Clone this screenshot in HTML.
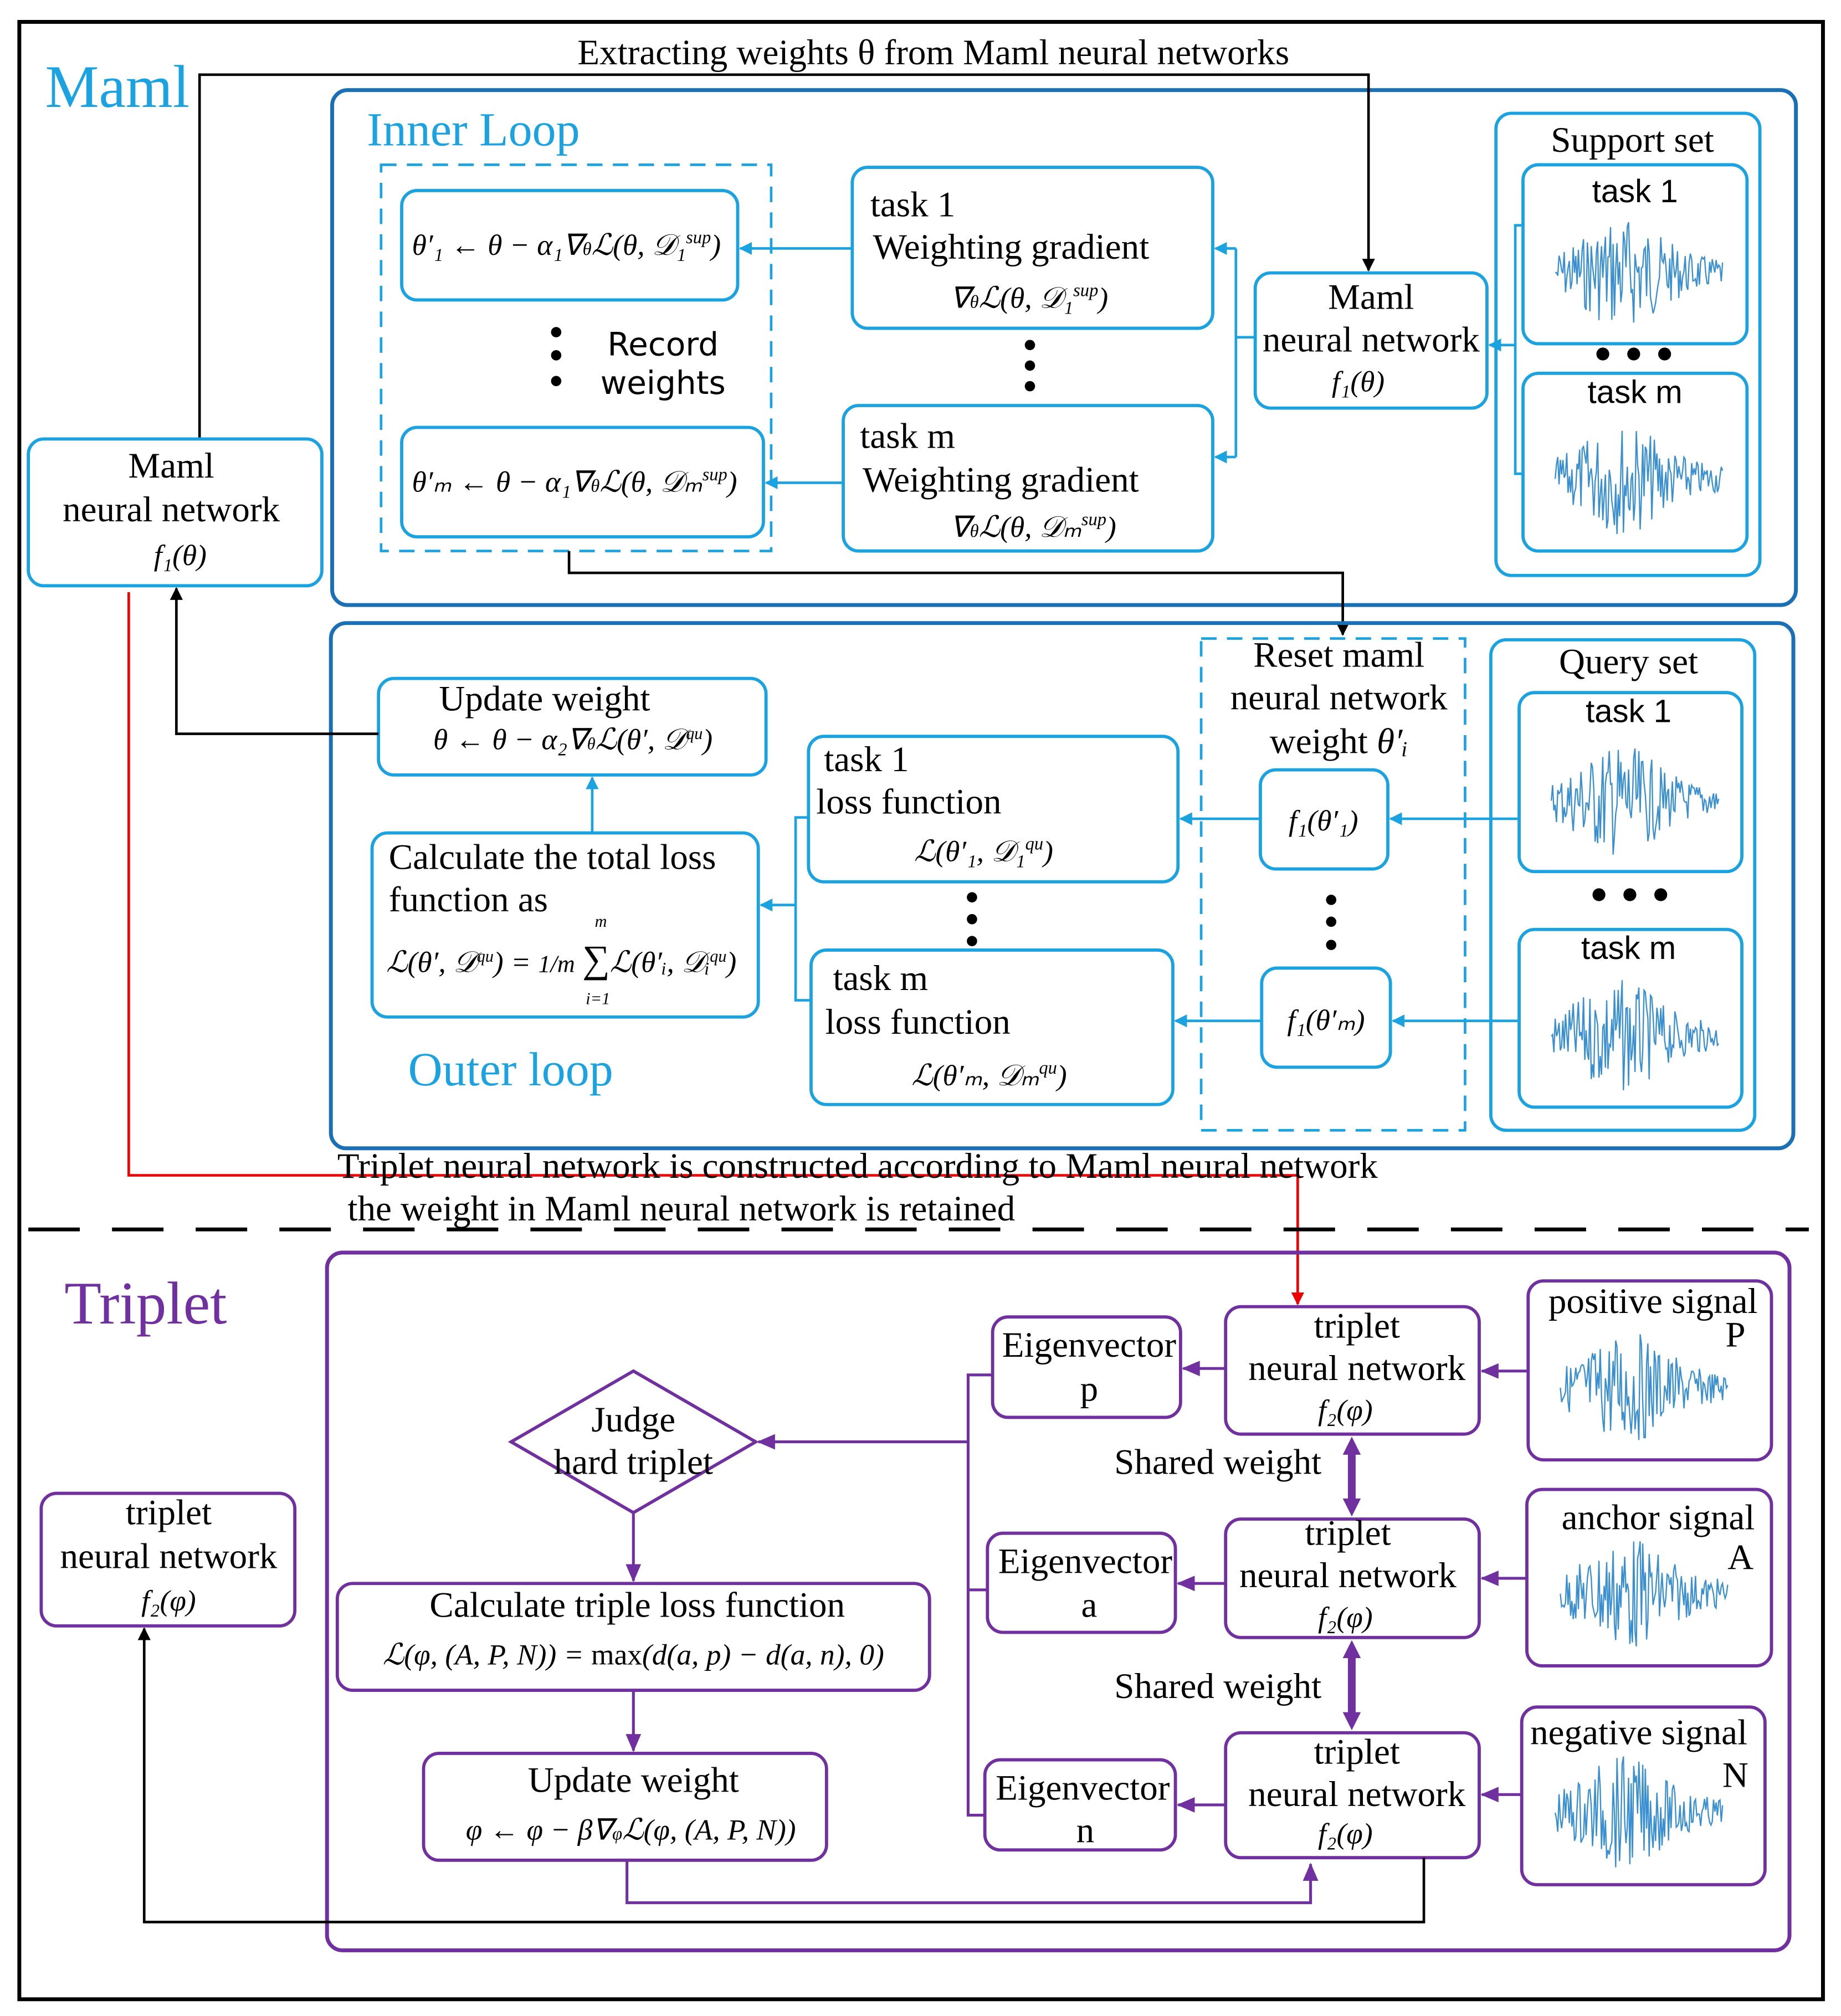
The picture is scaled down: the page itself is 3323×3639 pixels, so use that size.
<!DOCTYPE html>
<html><head><meta charset="utf-8"><style>
html,body{margin:0;padding:0;background:#fff;}
svg{display:block;}
text{font-family:"Liberation Serif",serif;fill:#000;}
.c{fill:#1aa3e0;}
.bx{fill:#fff;stroke:#1aa3e0;stroke-width:2.5;}
.pb{fill:#fff;stroke:#7030a0;stroke-width:2.5;}
.ar{stroke:#1aa3e0;stroke-width:2;fill:none;}
.pa{stroke:#7030a0;stroke-width:2.2;fill:none;}
.bk{stroke:#000;stroke-width:2;fill:none;}
.t{font-size:28px;}
.m{font-size:23px;font-style:italic;}
</style></head><body>
<svg id="s" width="3323" height="3639" viewBox="0 0 1430 1566" xmlns="http://www.w3.org/2000/svg">
<defs>
<marker id="ab" markerWidth="10" markerHeight="10" refX="9" refY="5" orient="auto" markerUnits="userSpaceOnUse"><path d="M0,0 L10,5 L0,10 z" fill="#1aa3e0"/></marker>
<marker id="ak" markerWidth="10" markerHeight="10" refX="9" refY="5" orient="auto" markerUnits="userSpaceOnUse"><path d="M0,0 L10,5 L0,10 z" fill="#000"/></marker>
<marker id="ar" markerWidth="10" markerHeight="10" refX="9" refY="5" orient="auto" markerUnits="userSpaceOnUse"><path d="M0,0 L10,5 L0,10 z" fill="#e00"/></marker>
<marker id="ap" markerWidth="14" markerHeight="12" refX="13" refY="6" orient="auto" markerUnits="userSpaceOnUse"><path d="M0,0 L14,6 L0,12 z" fill="#7030a0"/></marker>
</defs>
<rect x="0" y="0" width="1430" height="1566" fill="#fff"/>
<rect x="15" y="17" width="1401" height="1536" fill="none" stroke="#000" stroke-width="3"/>
<text x="35" y="83" class="c" font-size="47">Maml</text>
<text x="725" y="50" class="t" text-anchor="middle">Extracting weights θ from Maml neural networks</text>

<rect x="258" y="70" width="1137" height="400" rx="12" fill="none" stroke="#1a6fb5" stroke-width="3"/>
<text x="285" y="113" class="c" font-size="37">Inner Loop</text>
<rect x="296" y="128" width="303" height="300" fill="none" stroke="#1aa3e0" stroke-width="2" stroke-dasharray="12,8"/>
<rect x="312" y="148" width="261" height="85" rx="12" class="bx"/>
<text x="320" y="198" class="m" font-size="22">θ′₁ ← θ − α₁∇<tspan font-size="14">θ</tspan>ℒ(θ, 𝒟₁<tspan font-size="14" dy="-9">sup</tspan><tspan dy="9">)</tspan></text>
<rect x="312" y="332" width="281" height="85" rx="12" class="bx"/>
<text x="320" y="382" class="m" font-size="22">θ′ₘ ← θ − α₁∇<tspan font-size="14">θ</tspan>ℒ(θ, 𝒟ₘ<tspan font-size="14" dy="-9">sup</tspan><tspan dy="9">)</tspan></text>
<circle cx="432" cy="258" r="4"/><circle cx="432" cy="276" r="4"/><circle cx="432" cy="296" r="4"/>
<text x="515" y="276" class="t" text-anchor="middle" style="font-family:'DejaVu Sans',sans-serif;font-size:25px">Record</text>
<text x="515" y="306" class="t" text-anchor="middle" style="font-family:'DejaVu Sans',sans-serif;font-size:25px">weights</text>

<rect x="662" y="130" width="280" height="125" rx="12" class="bx"/>
<text x="676" y="168" class="t">task 1</text>
<text x="678" y="201" class="t">Weighting gradient</text>
<text x="738" y="239" class="m">∇<tspan font-size="14">θ</tspan>ℒ(θ, 𝒟₁<tspan font-size="14" dy="-9">sup</tspan><tspan dy="9">)</tspan></text>
<circle cx="800" cy="268" r="4"/><circle cx="800" cy="284" r="4"/><circle cx="800" cy="300" r="4"/>
<rect x="655" y="315" width="287" height="113" rx="12" class="bx"/>
<text x="668" y="348" class="t">task m</text>
<text x="670" y="382" class="t">Weighting gradient</text>
<text x="738" y="417" class="m">∇<tspan font-size="14">θ</tspan>ℒ(θ, 𝒟ₘ<tspan font-size="14" dy="-9">sup</tspan><tspan dy="9">)</tspan></text>

<rect x="975" y="212" width="180" height="105" rx="12" class="bx"/>
<text x="1065" y="240" class="t" text-anchor="middle">Maml</text>
<text x="1065" y="273" class="t" text-anchor="middle">neural network</text>
<text x="1055" y="304" class="m" text-anchor="middle">f₁(θ)</text>

<rect x="1162" y="88" width="205" height="359" rx="12" class="bx"/>
<text x="1268" y="118" class="t" text-anchor="middle">Support set</text>
<rect x="1183" y="128" width="174" height="139" rx="12" class="bx"/>
<text x="1270" y="157" class="t" text-anchor="middle" style="font-family:'Liberation Sans',sans-serif;font-size:25px">task 1</text>
<g class="w" data-x="1208" data-y="212"></g>
<circle cx="1245" cy="275" r="5"/><circle cx="1269" cy="275" r="5"/><circle cx="1293" cy="275" r="5"/>
<rect x="1183" y="290" width="174" height="138" rx="12" class="bx"/>
<text x="1270" y="313" class="t" text-anchor="middle" style="font-family:'Liberation Sans',sans-serif;font-size:25px">task m</text>
<g class="w" data-x="1208" data-y="372"></g>

<path class="ar" d="M662,193 L575,193" marker-end="url(#ab)"/>
<path class="ar" d="M655,375 L595,375" marker-end="url(#ab)"/>
<path class="ar" d="M975,262 L960,262 M960,193 L960,355"/>
<path class="ar" d="M960,193 L944,193" marker-end="url(#ab)"/>
<path class="ar" d="M960,355 L944,355" marker-end="url(#ab)"/>
<path class="ar" d="M1183,175 L1177,175 L1177,368 L1183,368 M1177,268 L1157,268" marker-end="url(#ab)"/>

<path class="bk" d="M155,341 L155,58 L1063,58 L1063,210" marker-end="url(#ak)"/>
<path class="bk" d="M442,428 L442,445 L1043,445 L1043,493" marker-end="url(#ak)"/>

<rect x="22" y="341" width="228" height="114" rx="12" class="bx"/>
<text x="133" y="371" class="t" text-anchor="middle">Maml</text>
<text x="133" y="405" class="t" text-anchor="middle">neural network</text>
<text x="140" y="439" class="m" text-anchor="middle">f₁(θ)</text>

<rect x="257" y="484" width="1136" height="408" rx="12" fill="none" stroke="#1a6fb5" stroke-width="3"/>
<text x="317" y="843" class="c" font-size="37">Outer loop</text>
<rect x="294" y="527" width="301" height="75" rx="12" class="bx"/>
<text x="423" y="552" class="t" text-anchor="middle">Update weight</text>
<text x="445" y="582" class="m" text-anchor="middle" font-size="20">θ ← θ − α₂∇<tspan font-size="13">θ</tspan>ℒ(θ′, 𝒟<tspan font-size="13" dy="-8">qu</tspan><tspan dy="8">)</tspan></text>
<rect x="289" y="647" width="300" height="143" rx="12" class="bx"/>
<text x="302" y="675" class="t">Calculate the total loss</text>
<text x="302" y="708" class="t">function as</text>
<text x="300" y="755" class="m" font-size="20">ℒ(θ′, 𝒟<tspan font-size="13" dy="-8">qu</tspan><tspan dy="8">) = </tspan><tspan font-size="19">1/m</tspan> <tspan font-size="30" font-style="normal">∑</tspan>ℒ(θ′ᵢ, 𝒟ᵢ<tspan font-size="13" dy="-8">qu</tspan><tspan dy="8">)</tspan></text>
<text x="462" y="720" font-size="13" font-style="italic">m</text>
<text x="455" y="780" font-size="13" font-style="italic">i=1</text>

<rect x="628" y="572" width="287" height="113" rx="12" class="bx"/>
<text x="640" y="599" class="t">task 1</text>
<text x="634" y="632" class="t">loss function</text>
<text x="710" y="669" class="m">ℒ(θ′₁, 𝒟₁<tspan font-size="14" dy="-9">qu</tspan><tspan dy="9">)</tspan></text>
<circle cx="755" cy="697" r="4"/><circle cx="755" cy="714" r="4"/><circle cx="755" cy="731" r="4"/>
<rect x="630" y="738" width="281" height="120" rx="12" class="bx"/>
<text x="647" y="769" class="t">task m</text>
<text x="641" y="803" class="t">loss function</text>
<text x="708" y="843" class="m">ℒ(θ′ₘ, 𝒟ₘ<tspan font-size="14" dy="-9">qu</tspan><tspan dy="9">)</tspan></text>

<rect x="933" y="496" width="205" height="382" fill="none" stroke="#1aa3e0" stroke-width="2" stroke-dasharray="12,8"/>
<text x="1040" y="518" class="t" text-anchor="middle">Reset maml</text>
<text x="1040" y="551" class="t" text-anchor="middle">neural network</text>
<text x="1040" y="585" class="t" text-anchor="middle">weight <tspan font-style="italic">θ′ᵢ</tspan></text>
<rect x="979" y="598" width="99" height="77" rx="12" class="bx"/>
<text x="1028" y="645" class="m" text-anchor="middle">f₁(θ′₁)</text>
<circle cx="1034" cy="699" r="4"/><circle cx="1034" cy="716" r="4"/><circle cx="1034" cy="734" r="4"/>
<rect x="980" y="752" width="100" height="77" rx="12" class="bx"/>
<text x="1030" y="800" class="m" text-anchor="middle">f₁(θ′ₘ)</text>

<rect x="1158" y="497" width="205" height="381" rx="12" class="bx"/>
<text x="1265" y="523" class="t" text-anchor="middle">Query set</text>
<rect x="1180" y="538" width="173" height="139" rx="12" class="bx"/>
<text x="1265" y="561" class="t" text-anchor="middle" style="font-family:'Liberation Sans',sans-serif;font-size:25px">task 1</text>
<g class="w" data-x="1205" data-y="622"></g>
<circle cx="1242" cy="695" r="5"/><circle cx="1266" cy="695" r="5"/><circle cx="1290" cy="695" r="5"/>
<rect x="1180" y="722" width="173" height="138" rx="12" class="bx"/>
<text x="1265" y="745" class="t" text-anchor="middle" style="font-family:'Liberation Sans',sans-serif;font-size:25px">task m</text>
<g class="w" data-x="1205" data-y="805"></g>

<path class="ar" d="M1180,636 L1080,636" marker-end="url(#ab)"/>
<path class="ar" d="M979,636 L917,636" marker-end="url(#ab)"/>
<path class="ar" d="M1180,793 L1082,793" marker-end="url(#ab)"/>
<path class="ar" d="M980,793 L913,793" marker-end="url(#ab)"/>
<path class="ar" d="M628,635 L618,635 L618,777 L630,777 M618,703 L591,703" marker-end="url(#ab)"/>
<path class="ar" d="M460,647 L460,604" marker-end="url(#ab)"/>
<path class="bk" d="M294,570 L137,570 L137,457" marker-end="url(#ak)"/>

<path d="M100,460 L100,913 L1008,913 L1008,1013" stroke="#e00" stroke-width="2" fill="none" marker-end="url(#ar)"/>
<text x="262" y="915" class="t">Triplet neural network is constructed according to Maml neural network</text>
<text x="270" y="948" class="t">the weight in Maml neural network is retained</text>
<line x1="22" y1="955" x2="1405" y2="955" stroke="#000" stroke-width="3" stroke-dasharray="40,25"/>

<rect x="254" y="973" width="1136" height="542" rx="12" fill="none" stroke="#7030a0" stroke-width="3"/>
<text x="50" y="1028" font-size="47" style="fill:#7030a0">Triplet</text>
<rect x="32" y="1160" width="197" height="103" rx="12" class="pb"/>
<text x="131" y="1184" class="t" text-anchor="middle">triplet</text>
<text x="131" y="1218" class="t" text-anchor="middle">neural network</text>
<text x="131" y="1251" class="m" text-anchor="middle">f₂(φ)</text>

<rect x="771" y="1023" width="146" height="78" rx="12" class="pb"/>
<text x="846" y="1054" class="t" text-anchor="middle">Eigenvector</text>
<text x="846" y="1088" class="t" text-anchor="middle">p</text>
<rect x="767" y="1191" width="146" height="77" rx="12" class="pb"/>
<text x="843" y="1222" class="t" text-anchor="middle">Eigenvector</text>
<text x="846" y="1256" class="t" text-anchor="middle">a</text>
<rect x="765" y="1367" width="148" height="70" rx="12" class="pb"/>
<text x="841" y="1398" class="t" text-anchor="middle">Eigenvector</text>
<text x="843" y="1431" class="t" text-anchor="middle">n</text>

<rect x="952" y="1015" width="197" height="99" rx="12" class="pb"/>
<text x="1054" y="1039" class="t" text-anchor="middle">triplet</text>
<text x="1054" y="1072" class="t" text-anchor="middle">neural network</text>
<text x="1045" y="1103" class="m" text-anchor="middle">f₂(φ)</text>
<rect x="952" y="1180" width="197" height="92" rx="12" class="pb"/>
<text x="1047" y="1200" class="t" text-anchor="middle">triplet</text>
<text x="1047" y="1233" class="t" text-anchor="middle">neural network</text>
<text x="1045" y="1264" class="m" text-anchor="middle">f₂(φ)</text>
<rect x="952" y="1346" width="197" height="97" rx="12" class="pb"/>
<text x="1054" y="1370" class="t" text-anchor="middle">triplet</text>
<text x="1054" y="1403" class="t" text-anchor="middle">neural network</text>
<text x="1045" y="1432" class="m" text-anchor="middle">f₂(φ)</text>

<rect x="1187" y="995" width="189" height="139" rx="12" class="pb"/>
<text x="1284" y="1020" class="t" text-anchor="middle" font-size="26">positive signal</text>
<text x="1348" y="1046" class="t" text-anchor="middle">P</text>
<g class="w" data-x="1212" data-y="1078"></g>
<rect x="1186" y="1157" width="190" height="137" rx="12" class="pb"/>
<text x="1288" y="1188" class="t" text-anchor="middle" font-size="26">anchor signal</text>
<text x="1352" y="1219" class="t" text-anchor="middle">A</text>
<g class="w" data-x="1212" data-y="1238"></g>
<rect x="1182" y="1326" width="189" height="138" rx="12" class="pb"/>
<text x="1273" y="1355" class="t" text-anchor="middle" font-size="26">negative signal</text>
<text x="1348" y="1388" class="t" text-anchor="middle">N</text>
<g class="w" data-x="1208" data-y="1408"></g>

<path d="M397,1120 L492,1065 L587,1120 L492,1175 Z" class="pb"/>
<text x="492" y="1112" class="t" text-anchor="middle">Judge</text>
<text x="492" y="1145" class="t" text-anchor="middle">hard triplet</text>
<rect x="262" y="1230" width="460" height="83" rx="12" class="pb"/>
<text x="495" y="1256" class="t" text-anchor="middle">Calculate triple loss function</text>
<text x="492" y="1293" class="m" text-anchor="middle" font-size="24">ℒ(φ, (A, P, N)) = <tspan font-style="normal">max</tspan>(d(a, p) − d(a, n), 0)</text>
<rect x="329" y="1362" width="313" height="83" rx="12" class="pb"/>
<text x="492" y="1392" class="t" text-anchor="middle">Update weight</text>
<text x="490" y="1429" class="m" text-anchor="middle" font-size="24">φ ← φ − β∇<tspan font-size="14">φ</tspan>ℒ(φ, (A, P, N))</text>

<path class="pa" d="M1187,1065 L1151,1065" marker-end="url(#ap)"/>
<path class="pa" d="M1186,1226 L1151,1226" marker-end="url(#ap)"/>
<path class="pa" d="M1182,1394 L1151,1394" marker-end="url(#ap)"/>
<path class="pa" d="M952,1063 L919,1063" marker-end="url(#ap)"/>
<path class="pa" d="M952,1230 L915,1230" marker-end="url(#ap)"/>
<path class="pa" d="M952,1402 L915,1402" marker-end="url(#ap)"/>
<path class="pa" d="M771,1068 L752,1068 L752,1410 L765,1410 M767,1235 L752,1235 M752,1120 L589,1120" marker-end="url(#ap)"/>
<path class="pa" d="M492,1175 L492,1228" marker-end="url(#ap)"/>
<path class="pa" d="M492,1313 L492,1360" marker-end="url(#ap)"/>
<path class="pa" d="M487,1445 L487,1478 L1018,1478 L1018,1448" marker-end="url(#ap)"/>
<path class="bk" d="M1106,1443 L1106,1493 L112,1493 L112,1265" marker-end="url(#ak)"/>
<path d="M1050,1116 L1043,1130 L1047,1130 L1047,1164 L1043,1164 L1050,1178 L1057,1164 L1053,1164 L1053,1130 L1057,1130 Z" fill="#7030a0"/>
<path d="M1050,1274 L1043,1288 L1047,1288 L1047,1330 L1043,1330 L1050,1344 L1057,1330 L1053,1330 L1053,1288 L1057,1288 Z" fill="#7030a0"/>
<text x="946" y="1145" class="t" text-anchor="middle">Shared weight</text>
<text x="946" y="1319" class="t" text-anchor="middle">Shared weight</text>
</svg>
<script>
(function(){
var seed=7;function r(){seed=(seed*9301+49297)%233280;return seed/233280;}
var gs=document.querySelectorAll('g.w');
for(var k=0;k<gs.length;k++){var g=gs[k];var x0=+g.getAttribute('data-x'),y0=+g.getAttribute('data-y');
var d='M'+x0+','+y0;var n=130;
for(var i=1;i<=n;i++){var t=i/n;var env=Math.exp(-Math.pow((t-0.4)/0.3,2))*0.8+0.25;
var a=(r()*2-1)*42*env;d+=' L'+(x0+t*130).toFixed(1)+','+(y0+a).toFixed(1);}
var p=document.createElementNS('http://www.w3.org/2000/svg','path');
p.setAttribute('d',d);p.setAttribute('fill','none');p.setAttribute('stroke','#3a8fd0');p.setAttribute('stroke-width','1');g.appendChild(p);}
})();
</script>
</body></html>
